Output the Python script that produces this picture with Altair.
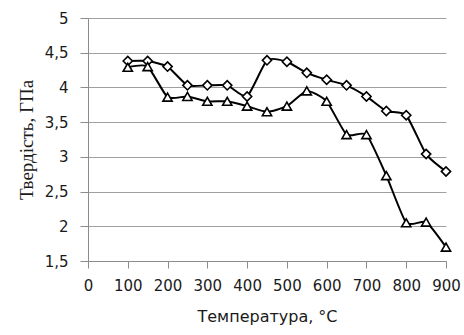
import altair as alt
import pandas as pd

# Temperature, °C
temperature = [100, 150, 200, 250, 300, 350, 400, 450, 500, 550, 600, 650, 700, 750, 800, 850, 900]
# Hardness, GPa
hardness_diamond = [4.38, 4.38, 4.30, 4.03, 4.03, 4.03, 3.87, 4.39, 4.37, 4.21, 4.11, 4.03, 3.87, 3.66, 3.60, 3.04, 2.79]
hardness_triangle = [4.29, 4.30, 3.86, 3.87, 3.80, 3.80, 3.73, 3.65, 3.73, 3.95, 3.80, 3.32, 3.32, 2.73, 2.05, 2.06, 1.70]

df = pd.DataFrame({
    "t": temperature * 2,
    "h": hardness_diamond + hardness_triangle,
    "s": ["d"] * len(temperature) + ["t"] * len(temperature),
})

x = alt.X("t:Q", scale=alt.Scale(domain=[0, 900], nice=False),
          axis=alt.Axis(title="Температура, °C", values=list(range(0, 901, 100)),
                        labelOverlap=False, labelBound=False, labelFlush=False,
                        grid=False, domainColor="#8c8c8c", tickColor="#8c8c8c",
                        tickSize=7, labelFont="DejaVu Sans", labelFontSize=15,
                        labelColor="#1a1a1a", labelPadding=10,
                        titleFont="DejaVu Sans", titleFontSize=16, titleFontWeight="normal",
                        titleColor="#1a1a1a", titlePadding=15))
y = alt.Y("h:Q", scale=alt.Scale(domain=[1.5, 5], nice=False, zero=False),
          axis=alt.Axis(title="Твердість, ГПа", values=[1.5, 2, 2.5, 3, 3.5, 4, 4.5, 5],
                        labelOverlap=False, labelFlush=False,
                        labelExpr="replace(format(datum.value, '~g'), '.', ',')",
                        gridColor="#a0a0a0", gridWidth=1.2,
                        domainColor="#8c8c8c", tickColor="#8c8c8c", tickSize=8,
                        labelFont="DejaVu Sans", labelFontSize=15, labelColor="#1a1a1a",
                        labelPadding=12,
                        titleFont="Liberation Serif", titleFontSize=19,
                        titleFontWeight="normal", titleColor="#1a1a1a", titlePadding=8))

base = alt.Chart(df)

lines = base.mark_line(color="black", strokeWidth=2, interpolate="cardinal", tension=0.45).encode(
    x=x, y=y, detail="s:N")

diamonds = base.transform_filter("datum.s == 'd'").mark_point(
    shape="diamond", filled=True, fill="white", stroke="black", strokeWidth=1.6,
    size=85, opacity=1).encode(x=x, y=y)

triangles = base.transform_filter("datum.s == 't'").mark_point(
    shape="triangle-up", filled=True, fill="white", stroke="black", strokeWidth=1.6,
    size=85, opacity=1).encode(x=x, y=y)

chart = alt.layer(lines, diamonds, triangles).properties(
    width=358, height=243,
    autosize=alt.AutoSizeParams(type="none"),
    padding={"left": 88, "top": 18, "right": 18, "bottom": 74},
    background="white",
).configure_view(stroke=None)

chart.save("out.html", embed_options={"renderer": "svg", "actions": False})
